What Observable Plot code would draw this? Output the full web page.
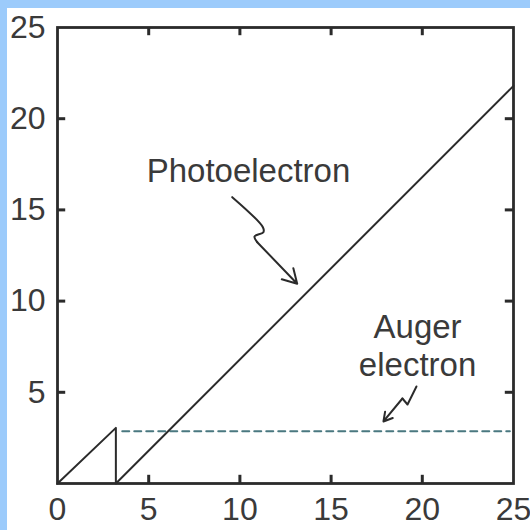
<!DOCTYPE html>
<html>
<head>
<meta charset="utf-8">
<script src="https://cdn.jsdelivr.net/npm/d3@7"></script>
<script src="https://cdn.jsdelivr.net/npm/@observablehq/plot@0.6"></script>
<style>
  html, body { margin: 0; padding: 0; background: #9ccbfb; width: 530px; height: 530px; overflow: hidden; }
  #card { position: absolute; left: 7px; top: 8px; width: 523px; height: 522px; background: #ffffff; }
</style>
</head>
<body>
<div id="card"></div>
<script>
// Tick labels
const xTicks = [0, 5, 10, 15, 20, 25];
const yTicks = [5, 10, 15, 20, 25];
const innerTicks = [5, 10, 15, 20];

// Photoelectron energy vs photon energy (keV) — drop at the K edge
const photoX = [0, 3.2, 3.2, 25];
const photoY = [0, 3.05, 0, 21.8];

// Auger electron energy (constant above the edge)
const augerX = [3.55, 24.8];
const augerY = [2.87, 2.87];

// Annotation labels
const labels = ["Photoelectron", "Auger", "electron"];
const labelX = [10.47, 19.74, 19.74];
const labelY = [17.1, 8.55, 6.45];

// Squiggly pointer arrows (data coordinates)
const photoArrowX = [9.58, 11.26, 11.29, 10.80, 10.95];
const photoArrowY = [15.70, 14.05, 13.78, 13.54, 13.23];
const photoTip = [13.14, 10.95];
const augerArrowX = [19.68, 19.19, 18.91];
const augerArrowY = [5.32, 4.33, 4.66];
const augerTip = [17.87, 3.40];

const photo = photoX.map((x, i) => ({x, y: photoY[i]}));
const auger = augerX.map((x, i) => ({x, y: augerY[i]}));
const texts = labels.map((t, i) => ({t, x: labelX[i], y: labelY[i]}));
const pArrow = photoArrowX.map((x, i) => ({x, y: photoArrowY[i]}));
const aArrow = augerArrowX.map((x, i) => ({x, y: augerArrowY[i]}));
const pLast = pArrow[pArrow.length - 1];
const aLast = aArrow[aArrow.length - 1];

const ink = "#2b2b2b";
const tl = 0.45;
const lowT = innerTicks.map(v => ({v, a: 0, b: tl}));
const highT = innerTicks.map(v => ({v, a: 25 - tl, b: 25}));

const chart = Plot.plot({
  width: 523,
  height: 522,
  marginLeft: 50,
  marginTop: 19,
  marginRight: 17,
  marginBottom: 47,
  style: {fontFamily: "Liberation Sans, Arial, sans-serif", fontSize: "32px", color: "#3a3a3a", background: "white"},
  x: {domain: [0, 25]},
  y: {domain: [0, 25]},
  marks: [
    Plot.axisX(xTicks, {tickSize: 0, tickPadding: 14, fontSize: 32, label: null, fill: "#3a3a3a"}),
    Plot.axisY(yTicks, {tickSize: 0, tickPadding: 12, fontSize: 32, label: null, fill: "#3a3a3a"}),
    Plot.line(auger, {x: "x", y: "y", stroke: "#4a7880", strokeWidth: 2, strokeDasharray: "7,5"}),
    Plot.line(photo, {x: "x", y: "y", stroke: ink, strokeWidth: 2}),
    Plot.line(pArrow, {x: "x", y: "y", stroke: ink, strokeWidth: 2, curve: "catmull-rom"}),
    Plot.arrow([0], {x1: pLast.x, y1: pLast.y, x2: photoTip[0], y2: photoTip[1], stroke: ink, strokeWidth: 2, headLength: 12}),
    Plot.line(aArrow, {x: "x", y: "y", stroke: ink, strokeWidth: 2}),
    Plot.arrow([0], {x1: aLast.x, y1: aLast.y, x2: augerTip[0], y2: augerTip[1], stroke: ink, strokeWidth: 2, headLength: 12}),
    Plot.text(texts, {x: "x", y: "y", text: "t", fontSize: 33, fill: "#3a3a3a", textAnchor: "middle"}),
    Plot.frame({stroke: ink, strokeWidth: 2.8}),
    // inward ticks on all four sides
    Plot.ruleX(lowT, {x: "v", y1: "a", y2: "b", stroke: ink, strokeWidth: 3}),
    Plot.ruleX(highT, {x: "v", y1: "a", y2: "b", stroke: ink, strokeWidth: 3}),
    Plot.ruleY(lowT, {y: "v", x1: "a", x2: "b", stroke: ink, strokeWidth: 3}),
    Plot.ruleY(highT, {y: "v", x1: "a", x2: "b", stroke: ink, strokeWidth: 3})
  ]
});
document.getElementById("card").appendChild(chart);
</script>
</body>
</html>
